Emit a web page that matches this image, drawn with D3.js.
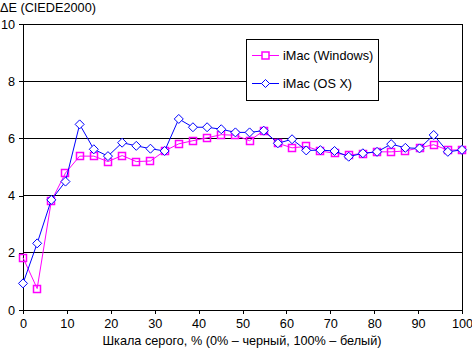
<!DOCTYPE html>
<html>
<head>
<meta charset="utf-8">
<script src="https://cdn.jsdelivr.net/npm/d3@7"></script>
<style>
  body { margin: 0; background: #fff; }
  text { font-family: "Liberation Sans", Arial, sans-serif; font-size: 12.7px; fill: #000; }
</style>
</head>
<body>
<svg></svg>
<script>
const width = 472;
const height = 353;
const margin = { top: 24, right: 10, bottom: 43, left: 23 };

// 32 grey levels, evenly spaced 0..100 %
const levels = d3.range(32).map(i => i * 100 / 31);
const win = [1.83, 0.75, 3.81, 4.79, 5.38, 5.38, 5.19, 5.40, 5.19, 5.21,
             5.56, 5.81, 5.92, 6.02, 6.13, 6.11, 5.92, 6.27, 5.83, 5.67,
             5.72, 5.56, 5.48, 5.42, 5.47, 5.53, 5.53, 5.56, 5.67, 5.78,
             5.59, 5.60];
const osx = [0.93, 2.33, 3.85, 4.49, 6.49, 5.62, 5.38, 5.85, 5.74, 5.64,
             5.56, 6.68, 6.39, 6.39, 6.32, 6.21, 6.21, 6.27, 5.83, 5.97,
             5.58, 5.59, 5.56, 5.36, 5.48, 5.53, 5.80, 5.67, 5.65, 6.12,
             5.53, 5.60];
const xTicks = [0, 10, 20, 30, 40, 50, 60, 70, 80, 90, 100];
const yTicks = [0, 2, 4, 6, 8, 10];
const seriesNames = ["iMac (Windows)", "iMac (OS X)"];

const svg = d3.select("svg")
    .attr("width", width)
    .attr("height", height);

const x = d3.scaleLinear().domain([0, 100]).range([margin.left, width - margin.right]);
const y = d3.scaleLinear().domain([0, 10]).range([height - margin.bottom, margin.top]);

// grid lines
svg.append("g")
    .selectAll("line")
    .data(yTicks.slice(1))
    .join("line")
    .attr("x1", x(0)).attr("x2", x(100))
    .attr("y1", d => y(d)).attr("y2", d => y(d))
    .attr("stroke", "#000")
    .attr("shape-rendering", "crispEdges");

// right border
svg.append("line")
    .attr("x1", x(100)).attr("x2", x(100))
    .attr("y1", y(10)).attr("y2", y(0))
    .attr("stroke", "#000")
    .attr("shape-rendering", "crispEdges");

// axes
const xAxis = svg.append("g")
    .attr("transform", "translate(0," + y(0) + ")")
    .call(d3.axisBottom(x).tickValues(xTicks).tickSize(4).tickSizeOuter(0).tickPadding(5));
const yAxis = svg.append("g")
    .attr("transform", "translate(" + x(0) + ",0)")
    .call(d3.axisLeft(y).tickValues(yTicks).tickSize(4).tickSizeOuter(0).tickPadding(4));

[xAxis, yAxis].forEach(a => {
    a.selectAll("path, line").attr("stroke", "#000").attr("shape-rendering", "crispEdges");
    a.selectAll("text").style("font-family", "Liberation Sans, Arial, sans-serif")
        .style("font-size", "12.7px").attr("fill", "#000");
});

svg.append("text").attr("x", 0).attr("y", 12).text("ΔE (CIEDE2000)");
svg.append("text")
    .attr("x", 242)
    .attr("y", 345)
    .attr("text-anchor", "middle")
    .text("Шкала серого, % (0% – черный, 100% – белый)");

const line = d3.line().x((d, i) => x(levels[i])).y(d => y(d));

const diamond = s => `M0,${-s}L${s},0L0,${s}L${-s},0Z`;

function draw_series(values, color, shape) {
    svg.append("path")
        .datum(values)
        .attr("d", line)
        .attr("fill", "none")
        .attr("stroke", color)
        .attr("stroke-width", 1);
    const g = svg.append("g");
    if (shape == "square") {
        g.selectAll("rect")
            .data(values)
            .join("rect")
            .attr("x", (d, i) => Math.round(x(levels[i])) - 3.5)
            .attr("y", d => Math.round(y(d)) - 3.5)
            .attr("width", 7).attr("height", 7)
            .attr("fill", "none")
            .attr("stroke", color)
            .attr("stroke-width", 1.5);
    } else {
        g.selectAll("path")
            .data(values)
            .join("path")
            .attr("transform", (d, i) => "translate(" + x(levels[i]) + "," + y(d) + ")")
            .attr("d", diamond(4.5))
            .attr("fill", "#fff")
            .attr("stroke", color)
            .attr("stroke-width", 1);
    }
}

draw_series(win, "#ff00ff", "square");
draw_series(osx, "#0000ff", "diamond");

// legend
const legend = svg.append("g");
legend.append("rect")
    .attr("x", 246.5).attr("y", 39.5)
    .attr("width", 132).attr("height", 61)
    .attr("fill", "#fff").attr("stroke", "#000");
const legendRows = [
    { name: seriesNames[0], color: "#ff00ff", shape: "square", y: 55 },
    { name: seriesNames[1], color: "#0000ff", shape: "diamond", y: 83 }
];
legendRows.forEach(r => {
    legend.append("line")
        .attr("x1", 252).attr("x2", 279)
        .attr("y1", r.y + 0.5).attr("y2", r.y + 0.5)
        .attr("stroke", r.color);
    if (r.shape == "square") {
        legend.append("rect")
            .attr("x", 262).attr("y", r.y - 3)
            .attr("width", 7).attr("height", 7)
            .attr("fill", "#fff").attr("stroke", r.color).attr("stroke-width", 1.5);
    } else {
        legend.append("path")
            .attr("transform", "translate(265.5," + (r.y + 0.5) + ")")
            .attr("d", diamond(4))
            .attr("fill", "#fff").attr("stroke", r.color);
    }
    legend.append("text").attr("x", 283).attr("y", r.y + 4.5).text(r.name);
});
</script>
</body>
</html>
